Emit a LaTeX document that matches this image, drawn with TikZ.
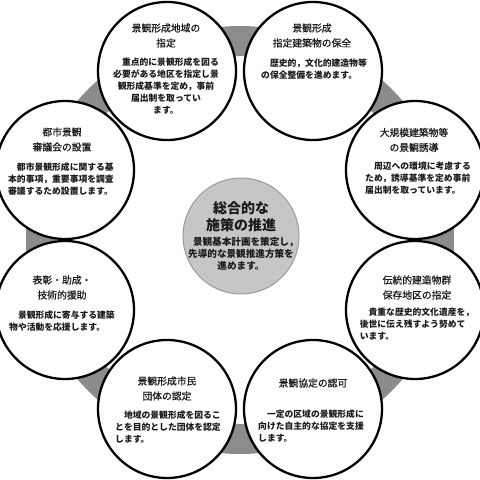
\documentclass[tikz,border=0pt]{standalone}
\usepackage{fontspec}
\setmainfont{Noto Sans CJK JP}
\newfontfamily\titlefont{Noto Sans CJK JP}[FakeBold=0.6]
\usetikzlibrary{positioning}
\definecolor{Ring}{HTML}{8C8C8C}
\definecolor{HubFill}{HTML}{C6C6C6}
\definecolor{HubLine}{HTML}{9A9A9A}
\definecolor{Ink}{HTML}{1A1A1A}
\tikzset{
    topic/.style={circle, draw=black, line width=2.3pt, fill=white, minimum size=138pt, inner sep=0pt},
    hub/.style={circle, draw=HubLine, line width=1pt, fill=HubFill, minimum size=116pt, inner sep=0pt},
    titletext/.style={align=center, font=\titlefont\fontsize{9.8}{15}\selectfont, text=Ink, inner sep=0pt},
    bodytext/.style={align=left, font=\bfseries\fontsize{8.8}{11.8}\selectfont, text=Ink, inner sep=0pt},
    ringband/.style={draw=Ring, line width=30pt},
}

\begin{document}
\begin{tikzpicture}[x=1pt, y=-1pt]
    \useasboundingbox (0,0) rectangle (480,480);

    % Anello grigio di sfondo
    \draw[ringband] (240,240) circle (199pt);

    % Cerchi dei singoli temi
    \node[topic] (c1) at (167,71) {};
    \node[topic] (c2) at (313,71) {};
    \node[topic] (c3) at (415,170) {};
    \node[topic] (c4) at (415,310) {};
    \node[topic] (c5) at (313,409) {};
    \node[topic] (c6) at (167,409) {};
    \node[topic] (c7) at (65,310) {};
    \node[topic] (c8) at (65,170) {};

    % Cerchio centrale
    \node[hub] (hub) at (241,236) {};
    \node[titletext, font=\bfseries\fontsize{14}{17.5}\selectfont] (hubtitle) at (241,216.5) {総合的な\\施策の推進};
    \node[bodytext, align=center, font=\bfseries\fontsize{9.6}{11.8}\selectfont] (hubbody) at (241,253.5)
        {　景観基本計画を策定し，\\先導的な景観推進方策を\\進めます。};

    % Testi dei temi
    \node[titletext] (t1) at (166,35.5) {景観形成地域の\\指定};
    \node[bodytext, align=center] (b1) at (166,86)
        {　重点的に景観形成を図る\\必要がある地区を指定し景\\観形成基準を定め，事前\\届出制を取ってい\\ます。};

    \node[titletext] (t2) at (312,35.5) {景観形成\\指定建築物の保全};
    \node[bodytext] (b2) at (314,69) {　歴史的，文化的建造物等\\の保全整備を進めます。};

    \node[titletext] (t3) at (414,140) {大規模建築物等\\の景観誘導};
    \node[bodytext] (b3) at (418,178)
        {　周辺への環境に考慮する\\ため，誘導基準を定め事前\\届出制を取っています。};

    \node[titletext] (t4) at (417,287.5) {伝統的建造物群\\保存地区の指定};
    \node[bodytext] (b4) at (417,324)
        {　貴重な歴史的文化遺産を，\\後世に伝え残すよう努めて\\います。};

    \node[titletext] (t5) at (313,383) {景観協定の認可};
    \node[bodytext] (b5) at (311,426)
        {　一定の区域の景観形成に\\向けた自主的な協定を支援\\します。};

    \node[titletext] (t6) at (167,388.5) {景観形成市民\\団体の認定};
    \node[bodytext] (b6) at (168,427)
        {　地域の景観形成を図るこ\\とを目的とした団体を認定\\します。};

    \node[titletext] (t7) at (62,287.5) {表彰・助成・\\技術的援助};
    \node[bodytext] (b7) at (62,321) {　景観形成に寄与する建築\\物や活動を応援します。};

    \node[titletext] (t8) at (62,139.5) {都市景観\\審議会の設置};
    \node[bodytext] (b8) at (61,179)
        {　都市景観形成に関する基\\本的事項，重要事項を調査\\審議するため設置します。};

\end{tikzpicture}
\end{document}
